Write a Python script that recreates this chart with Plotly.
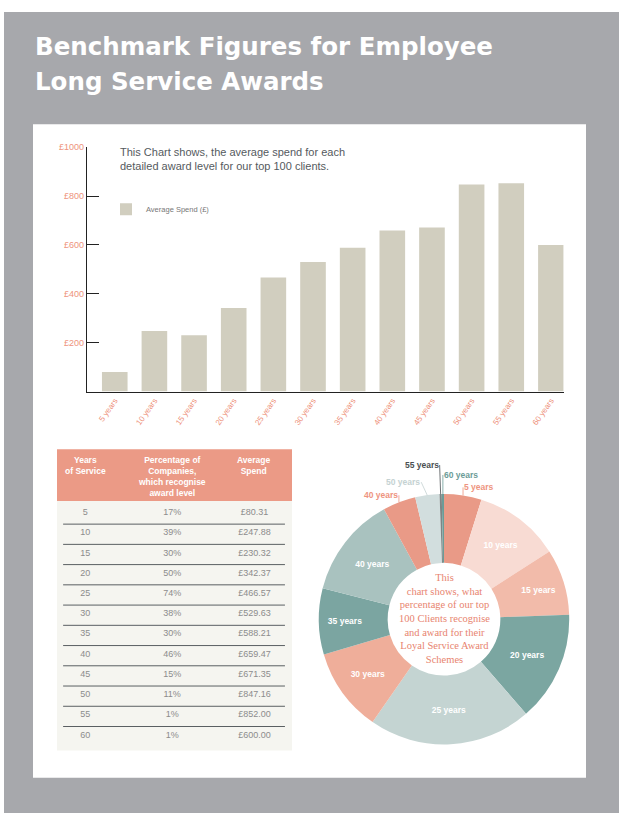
import math
import plotly.graph_objects as go

W, H = 619, 813

# ---------------- data ----------------
years = [5, 10, 15, 20, 25, 30, 35, 40, 45, 50, 55, 60]
categories = [f"{y} years" for y in years]
pct_companies = [17, 39, 30, 50, 74, 38, 30, 46, 15, 11, 1, 1]
avg_spend = [80.31, 247.88, 230.32, 342.37, 466.57, 529.63, 588.21, 659.47,
             671.35, 847.16, 852.00, 600.00]
y_tickvals = [200, 400, 600, 800, 1000]
y_ticktext = ["£200", "£400", "£600", "£800", "£1000"]
# labels as printed on the doughnut (the 45-year slice is printed "40 years")
pie_labels = ["5 years", "10 years", "15 years", "20 years", "25 years", "30 years",
              "35 years", "40 years", "40 years", "50 years", "55 years", "60 years"]
table_headers = ["Years<br>of Service",
                 "Percentage of<br>Companies,<br>which recognise<br>award level",
                 "Average<br>Spend"]
title_lines = ["Benchmark Figures for Employee", "Long Service Awards"]
# --------------------------------------

SALMON = "#EE927C"
BAR = "#D1CEBF"
GREY_BG = "#A7A8AC"

def px(x):
    return x / W

def py(y):
    return 1 - y / H

pie_colors = ["#E99A87", "#F8DBD3", "#F2BBAA", "#7BA6A1", "#C4D4D2", "#EFAE9A",
              "#7BA5A1", "#A9C2BF", "#E99A87", "#D2DEDE", "#7E8585", "#6C9C98"]
# slices whose label sits outside with a leader line
outside = [True, False, False, False, False, False, False, False, True, True, True, True]
pie_text_colors = ["#EE9480", "white", "white", "white", "white", "white",
                   "white", "white", "#EE9480", "#C5D2D2", "#4A4F52", "#6C9C98"]
# leader offsets (pixels) and text side for the outside labels
leader_dx = [0, 0, 0, 0, 0, 0, 0, 0, 0, -6, -1, 0]
leader_dy = [-8, 0, 0, 0, 0, 0, 0, 0, -7, -13, -29, -19]
leader_side = ["left", "", "", "", "", "", "", "", "right", "right", "right", "left"]

PIE_X0, PIE_X1, PIE_Y0, PIE_Y1 = 318, 570, 492, 744

fig = go.Figure()

# bar chart
fig.add_trace(go.Bar(
    x=categories, y=avg_spend, name="Average Spend (£)",
    marker=dict(color=BAR, line=dict(width=0)),
    xaxis="x", yaxis="y", showlegend=True, hoverinfo="x+y",
))

# doughnut
fig.add_trace(go.Pie(
    labels=categories, values=pct_companies,
    text=["" if o else t for o, t in zip(outside, pie_labels)],
    textinfo="text", sort=False, direction="clockwise", rotation=0,
    hole=0.45, marker=dict(colors=pie_colors, line=dict(width=0)),
    textposition=["none" if o else "inside" for o in outside],
    insidetextorientation="horizontal",
    textfont=dict(family="Liberation Sans", size=8.5, color="white", weight="bold"),
    domain=dict(x=[px(PIE_X0), px(PIE_X1)], y=[py(PIE_Y1), py(PIE_Y0)]),
    showlegend=False, hoverinfo="label+value",
))

# table text
col_x = [0.12, 0.49, 0.84]
col_text = [[str(y) for y in years],
            [f"{p}%" for p in pct_companies],
            [f"£{v:.2f}" for v in avg_spend]]
for j in range(3):
    fig.add_trace(go.Scatter(
        x=[col_x[j]] * len(years), y=list(range(len(years))),
        text=col_text[j], mode="text",
        textfont=dict(family="Liberation Sans", size=9, color="#8C8C8C"),
        xaxis="x3", yaxis="y3", showlegend=False, hoverinfo="skip",
    ))

annotations = []
# title
for k, (line, yc) in enumerate(zip(title_lines, [42, 77])):
    annotations.append(dict(
        text=f"<b>{line}</b>", x=px(33), y=py(yc), xref="paper", yref="paper",
        xanchor="left", yanchor="middle", align="left", showarrow=False,
        font=dict(family="DejaVu Sans", size=24.5, color="white"),
    ))
# bar chart subtitle
annotations.append(dict(
    text="This Chart shows, the average spend for each<br>detailed award level for our top 100 clients.",
    x=px(118), y=py(140), xref="paper", yref="paper", xanchor="left", yanchor="top",
    align="left", showarrow=False,
    font=dict(family="Liberation Sans", size=11, color="#555A5E"),
))
# table headers
for j in range(3):
    annotations.append(dict(
        text=f"<b>{table_headers[j]}</b>", x=col_x[j], y=py(451), xref="x3", yref="paper",
        xanchor="center", yanchor="top", align="center", showarrow=False,
        font=dict(family="Liberation Sans", size=8.5, color="white"),
    ))
# doughnut centre text
cx, cy = (PIE_X0 + PIE_X1) / 2, (PIE_Y0 + PIE_Y1) / 2
annotations.append(dict(
    text="This<br>chart shows, what<br>percentage of our top<br>100 Clients recognise"
         "<br>and award for their<br>Loyal Service Award<br>Schemes",
    x=px(cx), y=py(cy - 1), xref="paper", yref="paper", xanchor="center", yanchor="middle",
    align="center", showarrow=False,
    font=dict(family="Liberation Serif", size=10.5, color="#E8846F"),
))
# outside labels of the small slices, anchored on the slice's outer edge
r = (PIE_X1 - PIE_X0) / 2
total = sum(pct_companies)
cum = 0
for i, v in enumerate(pct_companies):
    mid = (cum + v / 2) / total * 2 * math.pi
    cum += v
    if not outside[i]:
        continue
    ex, ey = cx + r * math.sin(mid), cy - r * math.cos(mid)
    annotations.append(dict(
        text=f"<b>{pie_labels[i]}</b>", x=px(ex), y=py(ey), xref="paper", yref="paper",
        showarrow=True, arrowhead=0, arrowwidth=0.8, arrowcolor=pie_text_colors[i],
        ax=leader_dx[i], ay=leader_dy[i], xanchor=leader_side[i], yanchor="middle",
        borderpad=0, font=dict(family="Liberation Sans", size=8.5, color=pie_text_colors[i]),
    ))

shapes = [
    dict(type="rect", xref="paper", yref="paper", x0=px(4), x1=1, y0=0, y1=py(7),
         fillcolor=GREY_BG, line=dict(width=0), layer="below"),
    dict(type="rect", xref="paper", yref="paper", x0=px(33), x1=px(586), y0=py(777.5), y1=py(120),
         fillcolor="white", line=dict(width=0), layer="below"),
    # table body and header
    dict(type="rect", xref="x3 domain", yref="y3 domain", x0=0, x1=1, y0=0, y1=1 - 52 / 303,
         fillcolor="#F5F5F0", line=dict(width=0), layer="below"),
    dict(type="rect", xref="x3 domain", yref="y3 domain", x0=0, x1=1, y0=1 - 52 / 303, y1=1,
         fillcolor="#EB9A86", line=dict(width=0), layer="below"),
]
for i in range(len(years) - 1):
    shapes.append(dict(type="line", xref="x3", yref="y3", x0=0.026, x1=0.97,
                       y0=i + 0.56, y1=i + 0.56, line=dict(color="#5A5F62", width=1)))

fig.update_layout(
    width=W, height=H, margin=dict(l=0, r=0, t=0, b=0),
    paper_bgcolor="white", plot_bgcolor="rgba(0,0,0,0)",
    bargap=0.354,
    xaxis=dict(domain=[px(87), px(563.6)], range=[-0.7, 11.32], type="category",
               showline=True, linecolor="#222", linewidth=1.4, ticks="",
               tickangle=-55, tickfont=dict(family="Liberation Sans", size=8, color=SALMON),
               showgrid=False, zeroline=False, fixedrange=True),
    yaxis=dict(domain=[py(389), py(143)], range=[0, 1000], showline=True,
               linecolor="#222", linewidth=1.4, ticks="inside", ticklen=12,
               tickcolor="#222", tickwidth=1.4, tickvals=y_tickvals, ticktext=y_ticktext,
               tickfont=dict(family="Liberation Sans", size=9, color=SALMON),
               showgrid=False, zeroline=False, fixedrange=True),
    xaxis3=dict(domain=[px(57), px(292)], range=[0, 1], visible=False, fixedrange=True),
    yaxis3=dict(domain=[py(750), py(447)], range=[11.74, -3.14], visible=False, fixedrange=True),
    legend=dict(x=px(106), y=py(205.5), xanchor="left", yanchor="middle",
                bgcolor="rgba(0,0,0,0)", font=dict(family="Liberation Sans", size=7.5, color="#777")),
    annotations=annotations, shapes=shapes,
)

fig.write_html("out.html", config={"displayModeBar": False},
               post_script="document.body.style.margin='0';document.body.style.padding='0';")
